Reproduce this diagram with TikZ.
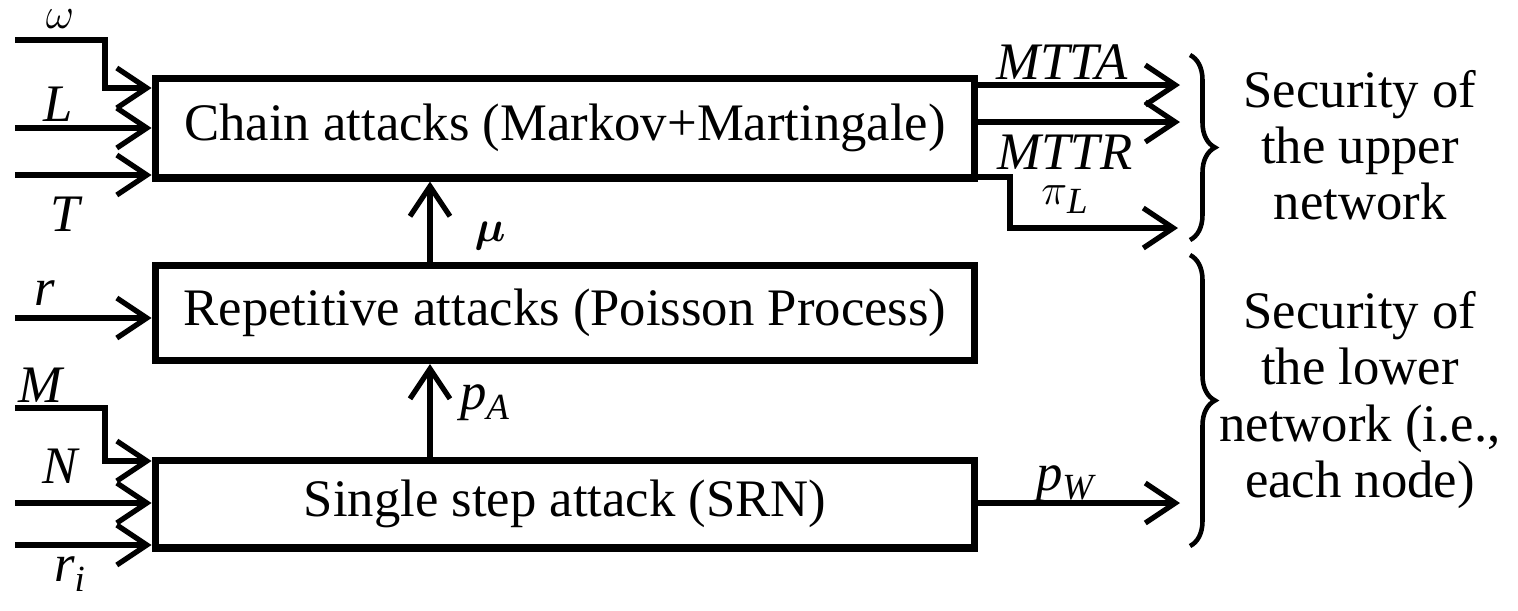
\documentclass[tikz,border=0pt]{standalone}
\usepackage{amsmath}
\usepackage{bm}
\usepackage{fontspec}
\setmainfont{Liberation Serif}
\usetikzlibrary{arrows.meta}
\usetikzlibrary{decorations.pathreplacing}
\usetikzlibrary{calc}

\begin{document}
\begin{tikzpicture}[x=0.02cm, y=-0.02cm, font=\fontsize{30}{35}\selectfont,
    box/.style={draw, line width=4pt, minimum width=16.4cm, minimum height=1.9cm, inner sep=0pt},
    sig/.style={line width=3pt, -{Straight Barb[length=0.6cm, width=0.8cm, line width=3pt]}},
    lbl/.style={inner sep=1pt, font=\fontsize{30}{35}\selectfont\itshape}]
  \useasboundingbox (0,0) rectangle (1518,610);

  \begin{scope}
    \node[box, minimum height=2.0cm] (chain) at (565,128) {Chain attacks (Markov+Martingale)};
    \node[box] (rep) at (565,313) {Repetitive attacks (Poisson Process)};
    \node[box, minimum height=1.76cm] (single) at (565,504) {Single step attack (SRN)};
  \end{scope}

  % inputs
  \coordinate (w0) at (15,40);
  \coordinate (l0) at (15,128);
  \coordinate (t0) at (15,175);
  \coordinate (r0) at (15,318);
  \coordinate (m0) at (15,408);
  \coordinate (n0) at (15,503);
  \coordinate (ri0) at (15,545);
  \draw[sig] (w0) -| (105,88) -- (chain.west |- 0,88);
  \draw[sig] (l0) -- (chain.west |- l0);
  \draw[sig] (t0) -- (chain.west |- t0);
  \draw[sig] (r0) -- (rep.west |- r0);
  \draw[sig] (m0) -| (105,461) -- (single.west |- 0,461);
  \draw[sig] (n0) -- (single.west |- n0);
  \draw[sig] (ri0) -- (single.west |- ri0);
  \node[lbl] (wl) at (60,19) {$\omega$};
  \node[lbl] (ll) at (58,104) {L};
  \node[lbl] (tl) at (65,214) {T};
  \node[lbl] (rl) at (45,293) {r};
  \node[lbl] (ml) at (40,385) {M};
  \node[lbl] (nl) at (60,466) {N};
  \node[lbl] (ril) at (70,574) {r\textsubscript{i}};

  % between the blocks
  \draw[sig] (rep.north -| 430,0) -- (chain.south -| 430,0);
  \draw[sig] (single.north -| 430,0) -- (rep.south -| 430,0);
  \node[lbl] (mu) at (490,236) {$\bm{\mu}$};
  \node[lbl] (pa) at (485,403) {p\textsubscript{A}};

  % outputs
  \coordinate (mtta) at (1180,85);
  \coordinate (mttr) at (1180,122);
  \coordinate (pil) at (1178,228);
  \coordinate (pw) at (1180,503);
  \draw[sig] (chain.east |- mtta) -- (mtta);
  \draw[sig] (chain.east |- mttr) -- (mttr);
  \draw[sig] (chain.east |- 0,177) -| (1010,228) -- (pil);
  \draw[sig] (single.east |- pw) -- (pw);
  \node[lbl] (mttal) at (1062,62) {MTTA};
  \node[lbl] (mttrl) at (1065,152) {MTTR};
  \node[lbl] (pill) at (1065,200) {$\pi$\textsubscript{L}};
  \node[lbl] (pwl) at (1065,484) {p\textsubscript{W}};

  % braces
  \draw[line width=2.6pt, decorate, decoration={brace, amplitude=0.5cm}] (1190,55) -- (1190,240);
  \draw[line width=2.6pt, decorate, decoration={brace, amplitude=0.5cm}] (1190,255) -- (1190,546);
  \node[align=center, font=\fontsize{30}{32}\selectfont] (upper) at (1360,145) {Security of\\the upper\\network};
  \node[align=center, font=\fontsize{30}{32}\selectfont] (lower) at (1360,400) {Security of\\the lower\\network (i.e.,\\each node)};
\end{tikzpicture}
\end{document}
